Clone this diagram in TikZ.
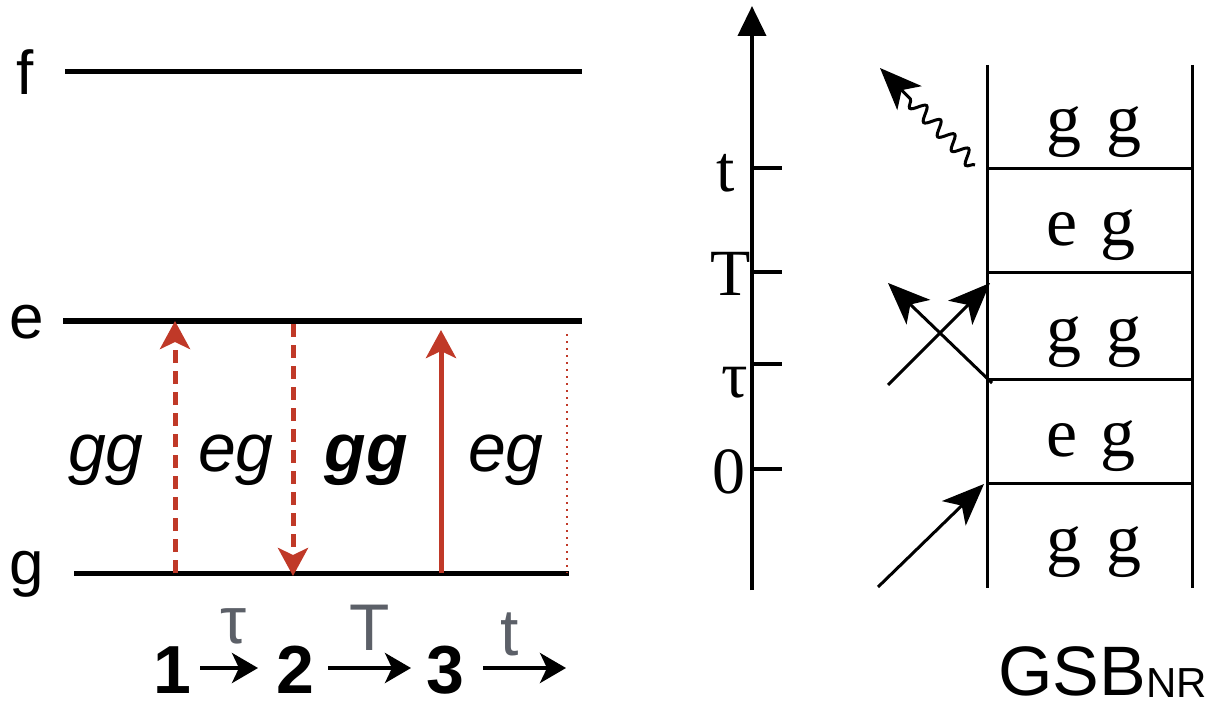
\documentclass[tikz,border=0pt]{standalone}
\usepackage{fontspec}
\setmainfont{Liberation Serif}
\newfontfamily\arialf{Liberation Sans}
\newfontfamily\tmsf{Liberation Serif}
\usetikzlibrary{arrows.meta,decorations.pathmorphing}
\definecolor{lred}{RGB}{192,57,40}
\definecolor{lgray}{RGB}{92,96,104}
\begin{document}
\begin{tikzpicture}[x=1pt,y=-1pt,
  level/.style={line width=5pt},
  lvllab/.style={font=\arialf\fontsize{62}{62}\selectfont, inner sep=0pt},
  stlab/.style={font=\arialf\itshape\fontsize{68}{68}\selectfont, inner sep=0pt},
  redarr/.style={lred, line width=5pt, -{Stealth[length=28pt,width=30pt,inset=7pt]}},
  reddash/.style={dash pattern=on 13pt off 8pt},
  reddot/.style={lred, line width=2pt, dash pattern=on 2pt off 5pt},
  digit/.style={font=\arialf\bfseries\fontsize{68}{68}\selectfont, inner sep=0pt},
  glab/.style={font=\arialf\fontsize{66}{66}\selectfont, text=lgray, inner sep=0pt},
  seqarr/.style={line width=4pt, -{Stealth[length=26pt,width=30pt,inset=7pt]}},
  axis/.style={line width=4pt, -{Triangle[length=30pt,width=28pt]}},
  tick/.style={line width=4pt},
  ticklab/.style={font=\tmsf\fontsize{66}{66}\selectfont, inner sep=0pt, anchor=base},
  ladder/.style={line width=3pt},
  cell/.style={font=\tmsf\fontsize{70}{70}\selectfont, inner sep=0pt, anchor=base},
  photon/.style={line width=3pt, -{Stealth[length=42pt,width=34pt,inset=11pt]}},
]
\useasboundingbox (0,0) rectangle (1217,708);

% ---------- energy levels ----------
\coordinate (fL) at (65,72);  \coordinate (fR) at (582,72);
\coordinate (eL) at (63,321); \coordinate (eR) at (582,321);
\coordinate (gL) at (74,573); \coordinate (gR) at (569,573);
\draw[level] (fL) -- (fR);
\draw[level] (eL) -- (eR);
\draw[level] (gL) -- (gR);
\node[lvllab] (flab) at (25,72) {f};
\node[lvllab] (elab) at (27,322) {e};
\node[lvllab] (glab) at (27,574) {g};

% ---------- transitions ----------
\coordinate (a1s) at (175,573); \coordinate (a1e) at (175,321);
\coordinate (a2s) at (293,324); \coordinate (a2e) at (293,576);
\coordinate (a3s) at (441,573); \coordinate (a3e) at (441,330);
\coordinate (a4s) at (567,334); \coordinate (a4e) at (567,573);
\draw[redarr, reddash] (a1s) -- (a1e);
\draw[redarr, reddash] (a2s) -- (a2e);
\draw[redarr] (a3s) -- (a3e);
\draw[reddot] (a4s) -- (a4e);

\node[stlab] (s1) at (106,460) {gg};
\node[stlab] (s2) at (236,460) {eg};
\node[stlab, font=\arialf\bfseries\itshape\fontsize{68}{68}\selectfont] (s3) at (366,460) {gg};
\node[stlab] (s4) at (506,460) {eg};

% ---------- pulse sequence ----------
\node[digit] (n1) at (172,670) {1};
\node[digit] (n2) at (295,670) {2};
\node[digit] (n3) at (445,670) {3};
\coordinate (q1s) at (200,668); \coordinate (q1e) at (258,668);
\coordinate (q2s) at (328,668); \coordinate (q2e) at (411,668);
\coordinate (q3s) at (483,668); \coordinate (q3e) at (566,668);
\draw[seqarr] (q1s) -- (q1e);
\draw[seqarr] (q2s) -- (q2e);
\draw[seqarr] (q3s) -- (q3e);
\node[glab] (gtau) at (234,626) {τ};
\node[glab] (gT) at (370,628) {T};
\node[glab] (gt) at (510,634) {t};

% ---------- time axis ----------
\coordinate (ax0) at (752,590); \coordinate (ax1) at (752,6);
\draw[axis] (ax0) -- (ax1);
\coordinate (k1a) at (750,168); \coordinate (k1b) at (782,168);
\coordinate (k2a) at (750,272); \coordinate (k2b) at (782,272);
\coordinate (k3a) at (750,364); \coordinate (k3b) at (782,364);
\coordinate (k4a) at (750,469); \coordinate (k4b) at (782,469);
\draw[tick] (k1a) -- (k1b);
\draw[tick] (k2a) -- (k2b);
\draw[tick] (k3a) -- (k3b);
\draw[tick] (k4a) -- (k4b);
\node[ticklab] (lt) at (726,192) {t};
\node[ticklab] (lT) at (731,296) {T};
\node[ticklab] (ltau) at (735,397) {τ};
\node[ticklab] (l0) at (729,493) {0};

% ---------- ladder ----------
\coordinate (vL0) at (987,65);  \coordinate (vL1) at (987,588);
\coordinate (vR0) at (1192,65); \coordinate (vR1) at (1192,588);
\draw[ladder] (vL0) -- (vL1);
\draw[ladder] (vR0) -- (vR1);
\coordinate (h1L) at (987,169); \coordinate (h1R) at (1192,169);
\coordinate (h2L) at (987,273); \coordinate (h2R) at (1192,273);
\coordinate (h3L) at (987,379); \coordinate (h3R) at (1192,379);
\coordinate (h4L) at (987,483); \coordinate (h4R) at (1192,483);
\draw[ladder] (h1L) -- (h1R);
\draw[ladder] (h2L) -- (h2R);
\draw[ladder] (h3L) -- (h3R);
\draw[ladder] (h4L) -- (h4R);
\node[cell] (c1) at (1094,143) {g\hspace{26pt}g};
\node[cell] (c2) at (1091,246) {e\hspace{22pt}g};
\node[cell] (c3) at (1094,352) {g\hspace{26pt}g};
\node[cell] (c4) at (1091,456) {e\hspace{22pt}g};
\node[cell] (c5) at (1094,562) {g\hspace{26pt}g};

% ---------- field interactions ----------
\coordinate (p1s) at (878,587); \coordinate (p1e) at (984,484);
\coordinate (p2s) at (888,385); \coordinate (p2e) at (990,283);
\coordinate (p3s) at (992,383); \coordinate (p3e) at (888,283);
\coordinate (p4s) at (975,165); \coordinate (p4e) at (880,68);
\draw[photon] (p1s) -- (p1e);
\draw[photon] (p2s) -- (p2e);
\draw[photon] (p3s) -- (p3e);
\draw[photon, decorate, decoration={snake, amplitude=7pt, segment length=20pt, post length=40pt}] (p4s) -- (p4e);

% ---------- diagram label ----------
\node[font=\arialf\fontsize{70}{70}\selectfont, anchor=base west, inner sep=0pt] (gsb) at (998,695) {GSB\raisebox{-2pt}{\fontsize{42}{42}\selectfont NR}};
\end{tikzpicture}
\end{document}
